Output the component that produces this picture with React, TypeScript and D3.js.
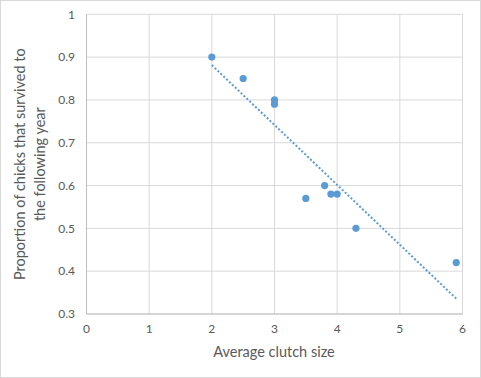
import React from "react";
import * as d3 from "d3";

const clutchSize = [2, 2.5, 3, 3, 3.5, 3.8, 3.9, 4, 4.3, 5.9];
const survival = [0.9, 0.85, 0.8, 0.79, 0.57, 0.6, 0.58, 0.58, 0.5, 0.42];
const xTicks = [0, 1, 2, 3, 4, 5, 6];
const yTicks = [0.3, 0.4, 0.5, 0.6, 0.7, 0.8, 0.9, 1];
const xTitle = "Average clutch size";
const yTitleLines = ["Proportion of chicks that survived to", "the following year"];

const W = 481;
const H = 378;
const left = 86.5;
const right = 462.5;
const top = 14.3;
const bottom = 314;
const FONT = "Lato, 'Open Sans', sans-serif";
const BLUE = "#5b9bd5";

export default function App() {
  const x = d3.scaleLinear().domain([0, 6]).range([left, right]);
  const y = d3.scaleLinear().domain([0.3, 1]).range([bottom, top]);

  const mx = d3.mean(clutchSize)!;
  const my = d3.mean(survival)!;
  let sxy = 0, sxx = 0;
  clutchSize.forEach((v, i) => {
    sxy += (v - mx) * (survival[i] - my);
    sxx += (v - mx) * (v - mx);
  });
  const slope = sxy / sxx;
  const intercept = my - slope * mx;
  const [x0, x1] = d3.extent(clutchSize) as [number, number];
  const trend = d3.line<number>().x((d) => x(d)).y((d) => y(intercept + slope * d))([x0, x1]);

  const midY = (top + bottom) / 2;

  return (
    <svg width={W} height={H} style={{ position: "absolute", left: 0, top: 0, background: "#fff" }}>
      <rect x={0.5} y={0.5} width={W - 1} height={H - 1} fill="#fff" stroke="#d9d9d9" />
      {xTicks.map((t) => (
        <line key={"gx" + t} x1={x(t)} x2={x(t)} y1={top} y2={bottom} stroke="#d9d9d9" strokeWidth={1} />
      ))}
      {yTicks.map((t) => (
        <line key={"gy" + t} x1={left} x2={right} y1={y(t)} y2={y(t)} stroke="#d9d9d9" strokeWidth={1} />
      ))}
      <line x1={left} x2={right} y1={bottom} y2={bottom} stroke="#bfbfbf" strokeWidth={1} />
      <line x1={left} x2={left} y1={top} y2={bottom} stroke="#bfbfbf" strokeWidth={1} />
      {yTicks.map((t) => (
        <text key={"ty" + t} x={75} y={y(t)} dy="0.35em" textAnchor="end" fontFamily={FONT} fontSize={12} fill="#595959">
          {String(t)}
        </text>
      ))}
      {xTicks.map((t) => (
        <text key={"tx" + t} x={x(t)} y={329} dy="0.35em" textAnchor="middle" fontFamily={FONT} fontSize={12} fill="#595959">
          {String(t)}
        </text>
      ))}
      <path d={trend ?? ""} stroke={BLUE} strokeWidth={2} strokeDasharray="2 2" fill="none" />
      {clutchSize.map((v, i) => (
        <circle key={"p" + i} cx={x(v)} cy={y(survival[i])} r={3.6} fill={BLUE} />
      ))}
      <text x={274} y={352} dy="0.35em" textAnchor="middle" fontFamily={FONT} fontSize={14.5} fill="#595959">
        {xTitle}
      </text>
      {yTitleLines.map((s, i) => (
        <text
          key={"yt" + i}
          transform={`translate(${20 + i * 20},${midY}) rotate(-90)`}
          dy="0.35em"
          textAnchor="middle"
          fontFamily={FONT}
          fontSize={14.5}
          fill="#595959"
        >
          {s}
        </text>
      ))}
    </svg>
  );
}
